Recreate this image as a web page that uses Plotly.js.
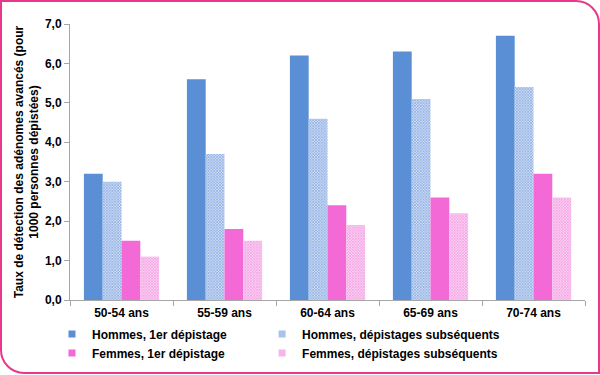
<!DOCTYPE html>
<html>
<head>
<meta charset="utf-8">
<script src="https://cdn.plot.ly/plotly-3.0.1.min.js"></script>
<style>
  html, body { margin: 0; padding: 0; background: #fff; }
  #wrap { position: relative; width: 600px; height: 375px; }
  #chart { position: absolute; left: 0; top: 0; width: 600px; height: 375px; }
  #frame { position: absolute; left: 0; top: 0; width: 596px; height: 370px;
           border: 2px solid #E9378B; border-radius: 0 24px 0 24px; pointer-events: none; }
</style>
</head>
<body>
<div id="wrap">
  <div id="chart"></div>
  <div id="frame"></div>
</div>
<script>
const categories = ["50-54 ans", "55-59 ans", "60-64 ans", "65-69 ans", "70-74 ans"];
const hommes1er = [3.2, 5.6, 6.2, 6.3, 6.7];
const hommesSub = [3.0, 3.7, 4.6, 5.1, 5.4];
const femmes1er = [1.5, 1.8, 2.4, 2.6, 3.2];
const femmesSub = [1.1, 1.5, 1.9, 2.2, 2.6];
const seriesNames = ["Hommes, 1er dépistage", "Hommes, dépistages subséquents",
                     "Femmes, 1er dépistage", "Femmes, dépistages subséquents"];
const yTitle = "Taux de détection des adénomes avancés (pour<br>1000 personnes dépistées)";

const font = { family: "Liberation Sans, Arial, sans-serif", size: 12, color: "#000" };

function bar(name, vals, color, pattern) {
  const t = { type: "bar", name: name, x: categories, y: vals, showlegend: false,
              marker: { color: color, line: { width: 0 } }, hoverinfo: "y" };
  if (pattern) t.marker.pattern = pattern;
  return t;
}
function leg(name, color, legend) {
  return { type: "scatter", mode: "markers", name: name, x: [null], y: [null],
           marker: { symbol: "square", size: 7, color: color }, legend: legend, hoverinfo: "skip" };
}

const data = [
  bar(seriesNames[0], hommes1er, "#5A8FD6"),
  bar(seriesNames[1], hommesSub, "#C8D8F2", { shape: "x", size: 2, solidity: 0.5, fgcolor: "#779EDD", bgcolor: "#D2DFF5" }),
  bar(seriesNames[2], femmes1er, "#F36AD6"),
  bar(seriesNames[3], femmesSub, "#FAD0F2", { shape: "x", size: 2, solidity: 0.5, fgcolor: "#F28ADD", bgcolor: "#FBD8F4" }),
  leg(seriesNames[0], "#5A8FD6", "legend"),
  leg(seriesNames[2], "#F36AD6", "legend"),
  leg(seriesNames[1], "#A8C3EC", "legend2"),
  leg(seriesNames[3], "#F6B4EA", "legend2")
];

const legendCommon = {
  orientation: "v", xref: "paper", yref: "paper", xanchor: "left", yanchor: "middle",
  itemwidth: 30, traceorder: "normal",
  font: { family: font.family, size: 12, color: "#000", weight: "bold" },
  bgcolor: "rgba(0,0,0,0)", tracegroupgap: 0
};

const layout = {
  width: 600, height: 375,
  margin: { l: 70, r: 15, t: 24, b: 75, autoexpand: false },
  paper_bgcolor: "rgba(0,0,0,0)", plot_bgcolor: "#fff",
  separators: ", ",
  font: font,
  barmode: "group", bargap: 0.27, bargroupgap: 0,
  showlegend: true,
  legend: Object.assign({}, legendCommon, { x: -0.035, y: -0.158 }),
  legend2: Object.assign({}, legendCommon, { x: 0.373, y: -0.158 }),
  xaxis: {
    type: "category", showgrid: false, showline: true, linecolor: "#A6A6A6", linewidth: 1,
    ticks: "outside", tickson: "boundaries", ticklen: 5, tickcolor: "#A6A6A6",
    ticklabelstandoff: 2,
    tickfont: { family: font.family, size: 12, color: "#000", weight: "bold" },
    zeroline: false, fixedrange: true
  },
  yaxis: {
    range: [0, 7], dtick: 1, tick0: 0, tickformat: ".1f",
    showgrid: false, showline: true, linecolor: "#A6A6A6", linewidth: 1,
    ticks: "outside", ticklen: 5, tickcolor: "#A6A6A6", zeroline: false,
    tickfont: { family: font.family, size: 12, color: "#000", weight: "bold" },
    title: { text: yTitle, standoff: 3, font: { family: font.family, size: 12, color: "#000", weight: "bold" } },
    fixedrange: true
  }
};

Plotly.newPlot("chart", data, layout, { displayModeBar: false, staticPlot: true });
</script>
</body>
</html>
